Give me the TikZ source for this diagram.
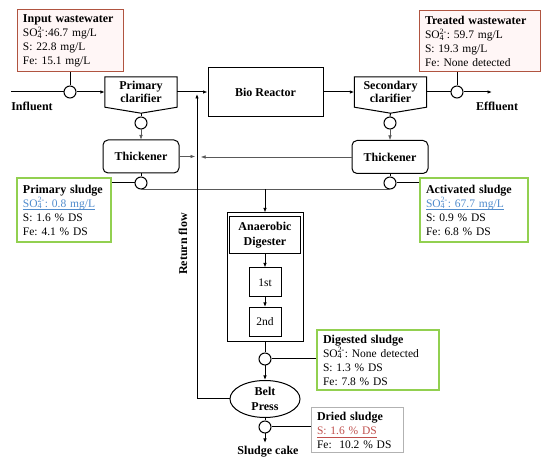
\documentclass[tikz,border=0pt]{standalone}
\usepackage{fontspec}
\setmainfont{Liberation Serif}
\usepackage{tikz}
\usetikzlibrary{shapes.geometric, arrows.meta, calc}

\definecolor{boxred}{RGB}{176,84,64}
\definecolor{boxpink}{RGB}{255,246,246}
\definecolor{boxgreen}{RGB}{146,208,80}
\definecolor{sulblue}{RGB}{80,140,205}
\definecolor{sred}{RGB}{192,80,77}

\newcommand{\sulf}{SO\makebox[0pt][l]{\textsubscript{4}}\textsuperscript{2-}}
\newcommand{\hd}[1]{{\fontsize{12}{14}\selectfont\bfseries #1}}
\newcommand{\uln}[1]{\leavevmode\setbox0=\hbox{#1}\rlap{\copy0}\raisebox{-3pt}{\rule{\wd0}{0.6pt}}}
\frenchspacing

\begin{document}
\begin{tikzpicture}[
  x=1pt, y=-1pt,
  font=\fontsize{11.5}{14}\selectfont,
  unit/.style  ={rectangle, draw=black, line width=1pt, align=center,
                 font=\fontsize{12}{15}\selectfont\bfseries, inner sep=1pt},
  thk/.style   ={rectangle, rounded corners=5pt, draw=black, line width=1pt, align=center,
                 font=\fontsize{12}{15}\selectfont\bfseries, minimum width=76pt, minimum height=33pt},
  clar/.style  ={rectangle, align=center, font=\fontsize{12}{13}\selectfont\bfseries,
                 minimum width=72pt, minimum height=30pt, inner sep=0pt},
  stage/.style ={rectangle, draw=black, line width=1pt, minimum width=32pt, minimum height=29pt},
  smp/.style   ={circle, draw=black, line width=1pt, minimum size=12pt, inner sep=0pt},
  redbox/.style={rectangle, draw=boxred, fill=boxpink, line width=1pt, align=left, inner xsep=6pt},
  grnbox/.style={rectangle, draw=boxgreen, fill=white, line width=1.2pt, align=left, inner xsep=6pt},
  gryBox/.style={rectangle, draw=gray!60, fill=white, line width=1pt, align=left, inner xsep=6pt},
  lbl/.style   ={font=\fontsize{12}{14}\selectfont\bfseries},
  ln/.style    ={draw=black, line width=1pt},
  gln/.style   ={draw=gray!70!black, line width=0.5pt},
  arr/.style   ={-{Latex[length=4.5pt,width=3.5pt]}, draw=black, line width=1pt},
  garr/.style  ={-{Latex[length=4.5pt,width=3.5pt]}, draw=gray!70!black, line width=0.5pt},
]
\useasboundingbox (0,0) rectangle (550,465);

% --- Sample boxes, top row ---
\node[redbox, text width=94pt, minimum height=62pt] (inw) at (70,41)
  {\hd{Input wastewater}\\\sulf:46.7 mg/L\\S: 22.8 mg/L\\Fe: 15.1 mg/L};
\node[redbox, text width=109pt, minimum height=61pt] (trw) at (479.5,41.5)
  {\hd{Treated wastewater}\\\sulf: 59.7 mg/L\\S: 19.3 mg/L\\Fe: None detected};

% --- Main line (y = 92) ---
\coordinate (inf) at (11,92);
\node[smp] (ci) at (70,92) {};
\node[clar] (pc) at (141,92) {Primary\\clarifier};
\node[unit, minimum width=115pt, minimum height=49pt] (bio) at (265.5,92) {Bio Reactor};
\node[clar] (sc) at (390.5,92) {Secondary\\clarifier};
\node[smp] (ce) at (457,92) {};
\coordinate (eff) at (492,92);

\draw[ln] (pc.north west) -- (pc.north east) -- (pc.south east) -- ([yshift=-6pt]pc.south) -- (pc.south west) -- cycle;
\draw[ln] (sc.north west) -- (sc.north east) -- (sc.south east) -- ([yshift=-6pt]sc.south) -- (sc.south west) -- cycle;

\node[lbl] (infl) at (32,106) {Influent};
\node[lbl] (effl) at (497,106) {Effluent};

% --- Thickeners ---
\node[smp] (pcc) at (141,123) {};
\node[smp] (scc) at (390,123) {};
\node[thk] (lth) at (141,156.5) {Thickener};
\node[thk] (rth) at (390,157) {Thickener};
\node[smp] (ltc) at (141,183) {};
\node[smp] (rtc) at (390,183) {};

\node[grnbox, text width=82pt, minimum height=64pt] (psl) at (64,210)
  {\hd{Primary sludge}\\\textcolor{sulblue}{\uln{\sulf: 0.8 mg/L}}\\S: 1.6 \% DS\\Fe: 4.1 \% DS};
\node[grnbox, text width=96pt, minimum height=64pt] (asl) at (474,210)
  {\hd{Activated sludge}\\\textcolor{sulblue}{\uln{\sulf: 67.7 mg/L}}\\S: 0.9 \% DS\\Fe: 6.8 \% DS};

% --- Digester column (x = 265) ---
\node[unit, minimum width=76pt, minimum height=129pt] (dig) at (265,277.5) {};
\node[unit, minimum width=71pt, minimum height=37pt] (ad) at (265,235.5) {Anaerobic\\Digester};
\node[stage] (st1) at (265,282.5) {1st};
\node[stage] (st2) at (265,322) {2nd};
\node[smp] (dgc) at (265,359) {};
\node[unit, ellipse, minimum width=70pt, minimum height=37pt, inner sep=0pt] (bp) at (265,399) {Belt\\Press};
\node[smp] (bpc) at (265,427) {};
\node[lbl] (sck) at (268,452) {Sludge cake};

\node[grnbox, text width=110pt, minimum height=60pt] (dgs) at (378,360)
  {\hd{Digested sludge}\\\sulf: None detected\\S: 1.3 \% DS\\Fe: 7.8 \% DS};
\node[gryBox, text width=80pt, minimum height=45pt] (drs) at (357,430.5)
  {\hd{Dried sludge}\\\textcolor{sred}{\uln{S: 1.6 \% DS}}\\Fe:\ \ 10.2 \% DS};

% --- Return flow ---
\coordinate (rb) at (197,399);
\coordinate (rt) at (197,94);
\node[lbl, rotate=90] (rfl) at (183,244) {Return flow};

% --- Connectors ---
\draw[ln] (inf) -- (ci.west);
\draw[arr] (ci.east) -- (pc.west);
\draw[arr] (pc.east) -- (bio.west);
\draw[arr] (bio.east) -- (sc.west);
\draw[ln] (sc.east) -- (ce.west);
\draw[arr] (ce.east) -- (eff);
\draw[ln] (inw.south) -- (ci.north);
\draw[ln] (ce.north) -- (ce.north |- trw.south);

\draw[ln] ([yshift=-6pt]pc.south) -- (pcc.north);
\draw[ln] ([yshift=-6pt]sc.south) -- (scc.north);
\draw[garr] (pcc.south) -- (lth.north);
\draw[garr] (scc.south) -- (rth.north);
\draw[ln] (lth.south) -- (ltc.north);
\draw[ln] (rth.south) -- (rtc.north);
\draw[ln] (ltc.west) -- (ltc.west -| psl.east);
\draw[ln] (rtc.east) -- (rtc.east -| asl.west);
\draw[gln] (ltc.south) -- (rtc.south);
\draw[arr] (dig.north |- ltc.south) -- (dig.north);

\draw[arr] (ad) -- (st1);
\draw[arr] (st1) -- (st2);
\draw[ln] (dig.south) -- (dgc.north);
\draw[ln] (dgc.east) -- (dgc.east -| dgs.west);
\draw[arr] (dgc.south) -- (bp.north);
\draw[ln] (bp.south) -- (bpc.north);
\draw[ln] (bpc.east) -- (bpc.east -| drs.west);
\draw[arr] (bpc.south) -- (bpc.south |- sck.north);

\draw[arr] (bp.west) -- (rb) -- (rt);
\draw[garr] (lth.east) -- ([xshift=-2pt]lth.east -| rt);
\draw[garr] (rth.west) -- ([xshift=4pt]rth.west -| rt);
\end{tikzpicture}
\end{document}
